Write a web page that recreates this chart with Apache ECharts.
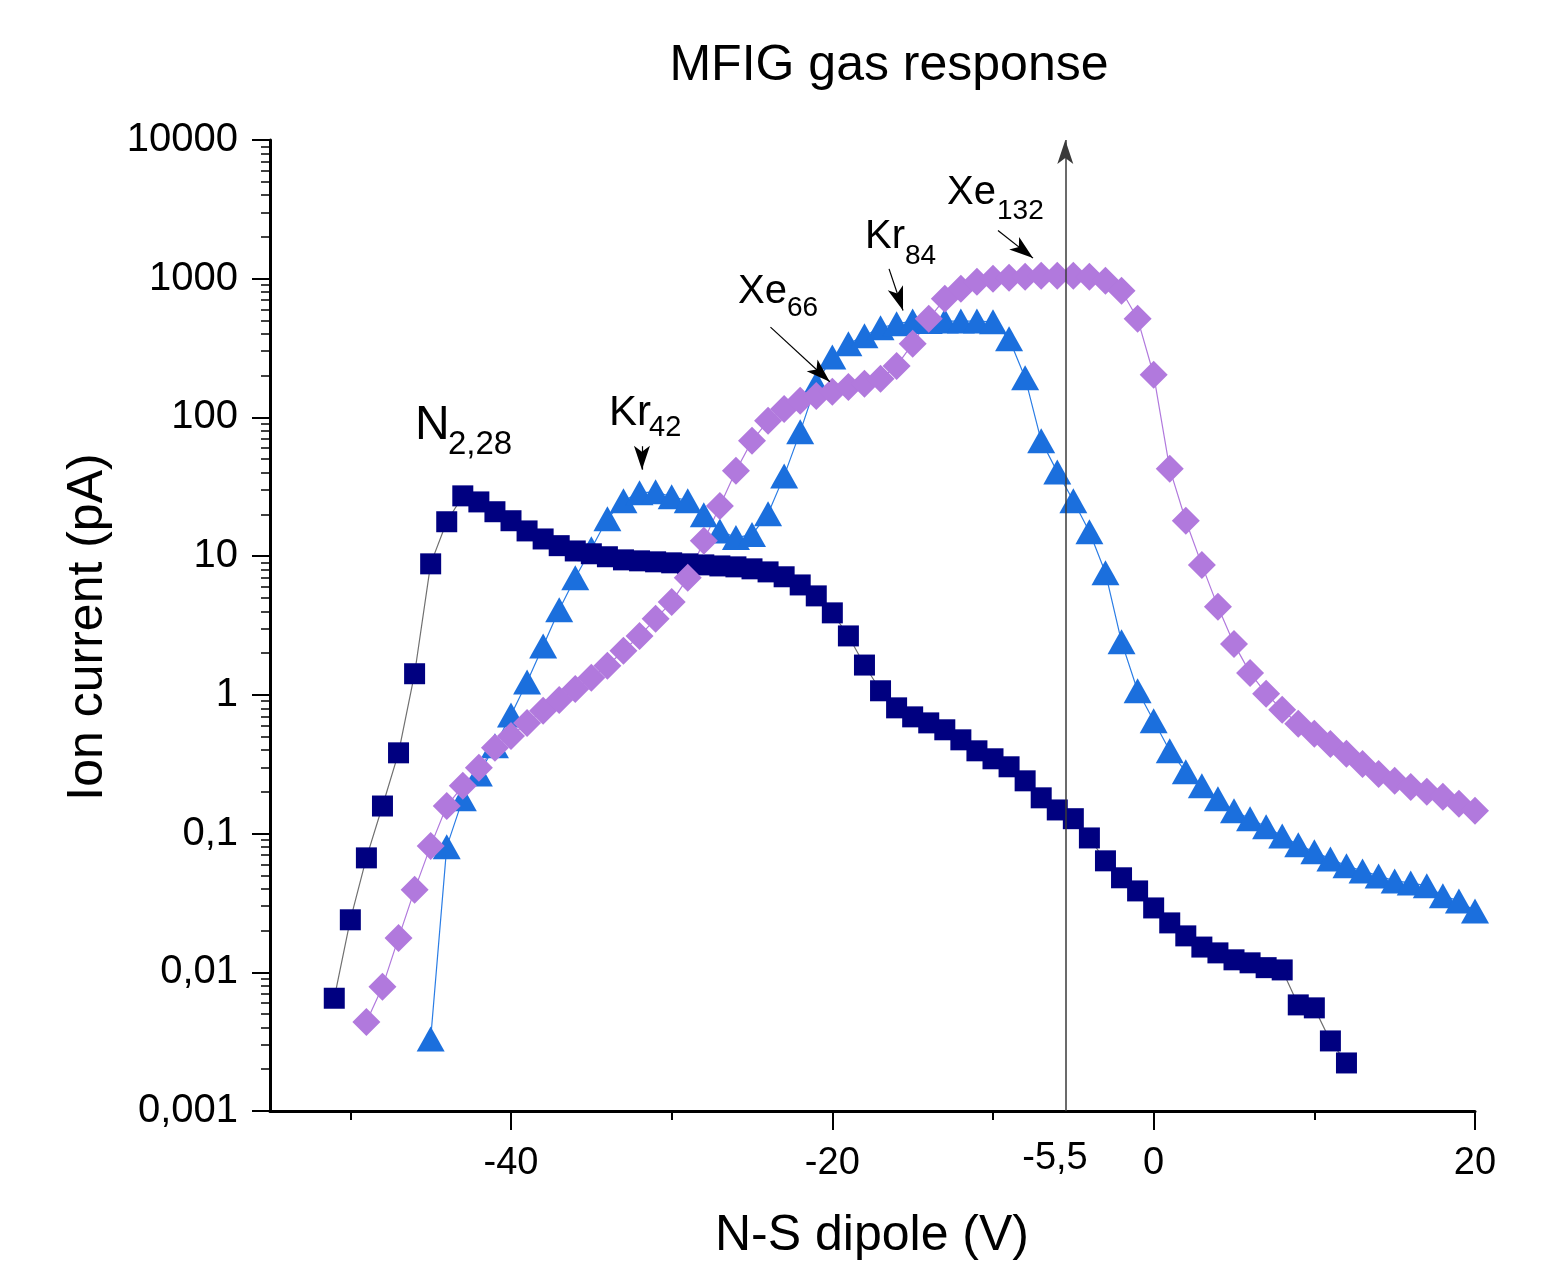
<!DOCTYPE html>
<html><head><meta charset="utf-8">
<script src="https://cdn.jsdelivr.net/npm/echarts@6/dist/echarts.min.js"></script>
<style>html,body{margin:0;padding:0;background:#fff}#c{width:1561px;height:1262px}</style>
</head><body><div id="c"></div>
<script>
const FONT = '"Liberation Sans", Arial, Helvetica, sans-serif';

// N2 (squares)
const xN2 = [-51,-50,-49,-48,-47,-46,-45,-44,-43,-42,-41,-40,-39,-38,-37,-36,-35,-34,-33,-32,-31,-30,-29,-28,-27,-26,-25,-24,-23,-22,-21,-20,-19,-18,-17,-16,-15,-14,-13,-12,-11,-10,-9,-8,-7,-6,-5,-4,-3,-2,-1,0,1,2,3,4,5,6,7,8,9,10,11,12];
const yN2 = [0.0065,0.0239,0.0668,0.158,0.382,1.42,8.8,17.7,27.2,
  24.6,20.9,18.0,15.2,13.3,11.9,10.9,10.4,9.9,9.4,
  9.25,9.1,8.95,8.8,8.65,8.5,8.37,8.1,7.7,7.1,
  6.2,5.17,3.9,2.66,1.64,1.07,0.806,0.694,0.628,0.56,
  0.474,0.395,0.346,0.303,0.24,0.181,0.148,0.128,0.093,0.0636,
  0.048,0.0386,0.0291,0.0227,0.0183,0.0152,0.0138,0.0123,0.0117,0.0108,
  0.0104,0.00582,0.00554,0.0032,0.00222];

// Kr (triangles)
const xKr = [-45,-44,-43,-42,-41,-40,-39,-38,-37,-36,-35,-34,-33,-32,-31,-30,-29,-28,-27,-26,-25,-24,-23,-22,-21,-20,-19,-18,-17,-16,-15,-14,-13,-12,-11,-10,-9,-8,-7,-6,-5,-4,-3,-2,-1,0,1,2,3,4,5,6,7,8,9,10,11,12,13,14,15,16,17,18,19,20];
const yKr = [0.00331,0.0802,0.178,0.269,0.429,0.717,1.24,2.25,4.10,6.98,
  11.3,18.6,25.1,28.6,29.1,26.8,25.1,19.9,15.2,13.6,
  14.3,20.2,37.9,78.7,175,273,340,388,443,473,
  495,492,495,495,495,489,369,193,67.8,40.5,
  25.1,15.0,7.58,2.41,1.07,0.65,0.395,0.279,0.221,0.178,
  0.146,0.128,0.112,0.0962,0.0829,0.0738,0.0657,0.0585,0.0538,0.0495,
  0.0456,0.0441,0.0420,0.0356,0.0327,0.0277];

// Xe (diamonds)
const xXe = [-49,-48,-47,-46,-45,-44,-43,-42,-41,-40,-39,-38,-37,-36,-35,-34,-33,-32,-31,-30,-29,-28,-27,-26,-25,-24,-23,-22,-21,-20,-19,-18,-17,-16,-15,-14,-13,-12,-11,-10,-9,-8,-7,-6,-5,-4,-3,-2,-1,0,1,2,3,4,5,6,7,8,9,10,11,12,13,14,15,16,17,18,19,20];
const yXe = [0.00439,0.00785,0.0177,0.0393,0.0815,0.158,0.221,0.298,0.415,0.506,
  0.628,0.767,0.920,1.10,1.33,1.62,2.08,2.66,3.53,4.68,
  6.98,12.9,23.0,41.2,67.8,94.5,115,132,143,153,
  166,175,190,235,340,514,716,846,950,998,
  1015,1032,1050,1050,1050,1032,966,818,514,203,
  42.6,18.0,8.65,4.31,2.33,1.44,1.02,0.780,0.618,0.524,
  0.443,0.376,0.318,0.269,0.240,0.217,0.200,0.184,0.164,0.146];

// axis ticks
const xMajorTicks = [-40,-20,0,20];
const xMinorTicks = [-50,-30,-10,10];
const markerX = -5.5;
const markerLabel = '-5,5';

// annotation arrows [x1,y1,x2,y2]
const arrowKr42 = [-31.85, 62, -31.85, 42];
const arrowXe66 = [-23.85, 448, -20.16, 181];
const arrowKr84 = [-16.47, 1178, -15.6, 590];
const arrowXe132 = [-9.69, 2227, -7.51, 1408];

const pairs = (xs, ys) => xs.map((x, i) => [x, ys[i]]);
const fmtY = v => String(Number(Number(v).toPrecision(6))).replace('.', ',');

const chart = echarts.init(document.getElementById('c'), null, {renderer: 'canvas'});

function arrowLine(a) {
  return [{coord: [a[0], a[1]]}, {coord: [a[2], a[3]]}];
}

const txt = (x, y, text, size, align) => ({
  type: 'text', x: x, y: y, silent: true,
  style: {text: text, fill: '#000', font: 'normal ' + size + 'px ' + FONT,
    textAlign: align || 'left', textVerticalAlign: 'middle'}
});

chart.setOption({
  animation: false,
  backgroundColor: '#fff',
  grid: {left: 270, right: 86, top: 140, bottom: 151, containLabel: false},
  xAxis: [{
    type: 'value', min: -55, max: 20,
    axisLine: {show: true, onZero: false, lineStyle: {color: '#000', width: 3}},
    axisTick: {show: true, customValues: xMajorTicks, length: 19, lineStyle: {color: '#000', width: 2}},
    axisLabel: {show: true, customValues: xMajorTicks, fontSize: 38, color: '#000', fontFamily: FONT, margin: 34},
    splitLine: {show: false}
  }, {
    type: 'value', min: -55, max: 20, position: 'bottom',
    axisLine: {show: false, onZero: false},
    axisTick: {show: true, customValues: xMinorTicks, length: 9, lineStyle: {color: '#000', width: 2}},
    axisLabel: {show: false},
    splitLine: {show: false}
  }],
  yAxis: {
    type: 'log', logBase: 10, min: 0.001, max: 10000,
    axisLine: {show: true, onZero: false, lineStyle: {color: '#000', width: 3}},
    axisTick: {show: true, length: 18, lineStyle: {color: '#000', width: 2}},
    minorTick: {show: true, splitNumber: 9, length: 9, lineStyle: {color: '#000', width: 1.5}},
    splitLine: {show: false},
    minorSplitLine: {show: false},
    axisLabel: {fontSize: 40, color: '#000', fontFamily: FONT, margin: 32, formatter: fmtY}
  },
  series: [
    {
      name: 'Kr', type: 'line', data: pairs(xKr, yKr),
      symbol: 'triangle', symbolSize: [28, 25], showSymbol: true,
      itemStyle: {color: '#1b6fdd'},
      lineStyle: {color: '#2b7de5', width: 1.2},
      emphasis: {disabled: true}, silent: true
    },
    {
      name: 'N2', type: 'line', data: pairs(xN2, yN2),
      symbol: 'rect', symbolSize: 21,
      itemStyle: {color: '#000080'},
      lineStyle: {color: '#707070', width: 1.2},
      emphasis: {disabled: true}, silent: true
    },
    {
      name: 'Xe', type: 'line', data: pairs(xXe, yXe),
      symbol: 'diamond', symbolSize: 28,
      itemStyle: {color: '#b179dd'},
      lineStyle: {color: '#b179dd', width: 1.2},
      emphasis: {disabled: true}, silent: true
    },
    {
      name: 'marks', type: 'line', data: [], silent: true, z: 5,
      markLine: {
        silent: true, animation: false,
        symbol: ['none', 'arrow'], symbolSize: [12, 24],
        label: {show: false},
        lineStyle: {color: '#000', width: 1.2, type: 'solid'},
        emphasis: {disabled: true},
        data: [
          [{coord: [markerX, 0.001], lineStyle: {color: '#3a3a3a', width: 1.5}}, {coord: [markerX, 10000]}],
          arrowLine(arrowKr42), arrowLine(arrowXe66), arrowLine(arrowKr84), arrowLine(arrowXe132)
        ]
      }
    }
  ],
  graphic: [
    txt(889, 66, 'MFIG gas response', 50, 'center'),
    txt(872, 1236, 'N-S dipole (V)', 50, 'center'),
    Object.assign(txt(88, 627, 'Ion current (pA)', 50, 'center'), {rotation: Math.PI / 2}),
    txt(1055, 1159, markerLabel, 38, 'center'),
    txt(415, 426, 'N', 48), txt(448, 445, '2,28', 33),
    txt(609, 413, 'Kr', 42), txt(649, 428, '42', 29),
    txt(738, 292, 'Xe', 40), txt(787, 308, '66', 28),
    txt(865, 237, 'Kr', 40), txt(905, 256, '84', 28),
    txt(947, 193, 'Xe', 40), txt(997, 211, '132', 28)
  ]
});
</script></body></html>
